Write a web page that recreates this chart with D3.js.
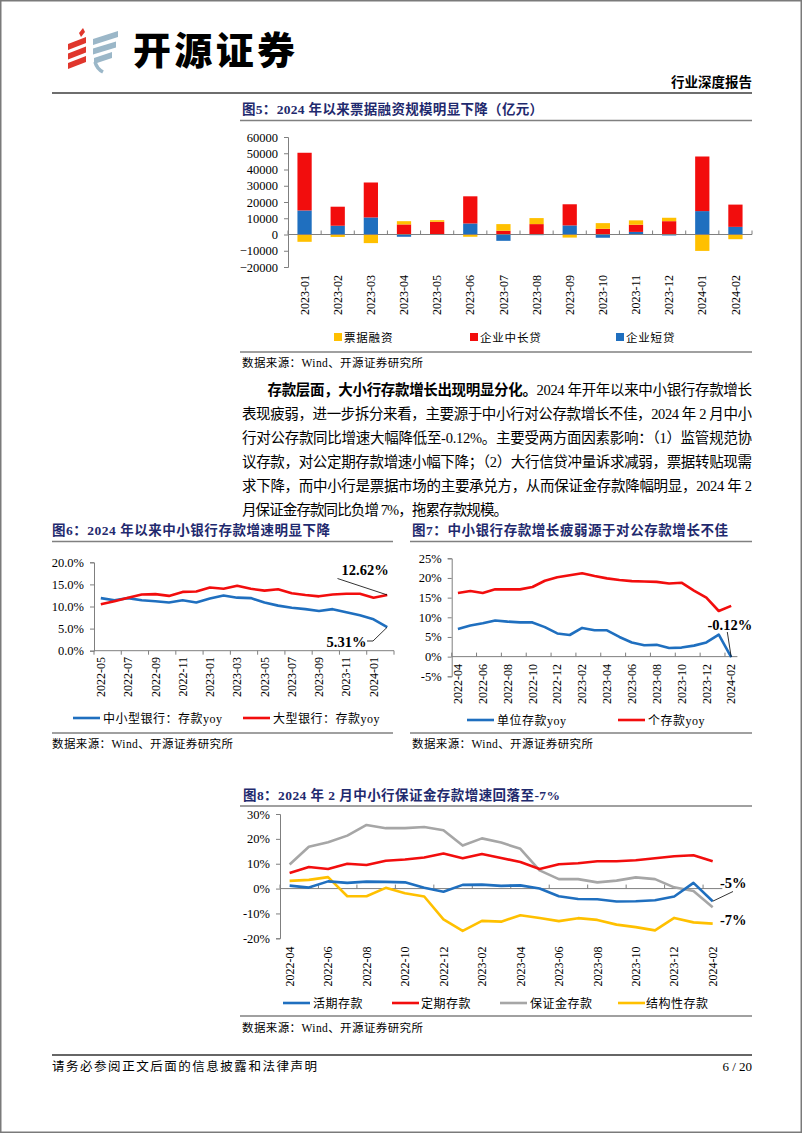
<!DOCTYPE html>
<html><head><meta charset="utf-8">
<script src="https://cdn.jsdelivr.net/npm/d3@7"></script>
<style>body{margin:0;background:#fff}svg{display:block}</style>
</head><body><svg id="page" width="802" height="1133"></svg>
<script>
// ---------- DATA ----------
const months5 = ["2023-01","2023-02","2023-03","2023-04","2023-05","2023-06","2023-07","2023-08","2023-09","2023-10","2023-11","2023-12","2024-01","2024-02"];
const bill5    = [-4500,-1500,-5300, 2000, 1000,-1400, 4100, 3700,-1900, 3500, 2700, 2100,-10100,-2900];
const midLong5 = [35500,11700,21500, 6200, 7800,16700, 2300, 6400,13000, 3500, 4400, 8200, 33600,13700];
const short5   = [14800, 5400,10500,-1400, -100, 6800,-3900, -400, 5600,-2000, 1600, -600, 14400, 4700];
const ticks5 = [-20000,-10000,0,10000,20000,30000,40000,50000,60000];
const legend5 = ["票据融资","企业中长贷","企业短贷"];

const months6 = ["2022-05","2022-06","2022-07","2022-08","2022-09","2022-10","2022-11","2022-12","2023-01","2023-02","2023-03","2023-04","2023-05","2023-06","2023-07","2023-08","2023-09","2023-10","2023-11","2023-12","2024-01","2024-02"];
const smallBank6 = [11.9,11.4,11.9,11.4,11.2,10.9,11.4,10.9,11.8,12.5,12.0,11.9,10.9,10.2,9.7,9.4,9.0,9.4,8.7,8.0,7.1,5.31];
const bigBank6   = [10.5,11.2,12.0,12.7,12.8,12.4,13.3,13.4,14.3,14.0,14.7,14.0,13.6,13.9,13.0,12.6,12.3,12.7,12.9,12.9,12.0,12.62];
const ticks6 = [0,5,10,15,20];
const legend6 = ["中小型银行：存款yoy","大型银行：存款yoy"];

const months7 = ["2022-04","2022-05","2022-06","2022-07","2022-08","2022-09","2022-10","2022-11","2022-12","2023-01","2023-02","2023-03","2023-04","2023-05","2023-06","2023-07","2023-08","2023-09","2023-10","2023-11","2023-12","2024-01","2024-02"];
const corp7     = [7.0,7.9,8.5,9.2,8.9,8.7,8.7,7.5,5.9,5.5,7.3,6.7,6.7,5.0,3.6,2.9,3.0,2.2,2.3,2.8,3.6,5.6,-0.12];
const personal7 = [16.2,16.7,16.2,17.1,17.1,17.1,17.7,19.3,20.2,20.7,21.2,20.5,19.9,19.5,19.2,19.1,19.0,18.6,18.8,16.8,15.0,11.6,12.9];
const ticks7 = [-5,0,5,10,15,20,25];
const legend7 = ["单位存款yoy","个存款yoy"];

const months8 = months7;
const demand8     = [1.2,0.4,2.9,2.3,2.8,2.7,2.5,0.3,-1.3,1.5,1.6,1.1,1.3,0.0,-3.1,-4.2,-4.3,-5.2,-5.1,-4.7,-3.2,2.3,-5.1];
const time8       = [6.3,8.7,7.9,10.0,9.5,11.2,11.7,12.5,14.1,12.2,13.9,12.3,10.7,7.9,9.8,10.2,11.0,11.0,11.4,12.2,13.0,13.4,11.0];
const margin8     = [9.7,16.8,18.6,21.3,25.6,24.3,24.3,24.8,23.5,17.3,20.2,18.5,16.0,7.3,3.8,3.8,2.5,3.2,4.5,3.8,0.5,-1.0,-7.5];
const structured8 = [3.1,3.5,4.6,-3.1,-3.1,0.3,-1.9,-3.2,-12.4,-17.0,-13.0,-13.3,-10.7,-11.8,-13.1,-11.9,-12.6,-14.5,-15.5,-16.8,-11.8,-13.6,-14.1];
const ticks8 = [-20,-10,0,10,20,30];
const legend8 = ["活期存款","定期存款","保证金存款","结构性存款"];

const paragraph = [
  ["存款层面，大小行存款增长出现明显分化。","2024 年开年以来中小银行存款增长"],
  ["","表现疲弱，进一步拆分来看，主要源于中小行对公存款增长不佳，2024 年 2 月中小"],
  ["","行对公存款同比增速大幅降低至-0.12%。主要受两方面因素影响：（1）监管规范协"],
  ["","议存款，对公定期存款增速小幅下降；（2）大行信贷冲量诉求减弱，票据转贴现需"],
  ["","求下降，而中小行是票据市场的主要承兑方，从而保证金存款降幅明显，2024 年 2"],
  ["","月保证金存款同比负增 7%，拖累存款规模。"]
];

// ---------- STYLE ----------
const FONT = '"Liberation Serif","Noto Sans CJK SC",serif';
const NAVY = '#1f2a6e';
const AX = '#7f7f7f';
const BLUE = '#1f6fbf', RED = '#f20d0d', YEL = '#ffc000', GRAY = '#a6a6a6';

const svg = d3.select('#page');

function txt(g, x, y, s, o = {}) {
  const t = g.append('text').attr('x', x).attr('y', y).text(s)
    .attr('font-family', o.family || FONT).attr('font-size', o.size || 12)
    .attr('fill', o.fill || '#000');
  if (o.weight) t.attr('font-weight', o.weight);
  if (o.anchor) t.attr('text-anchor', o.anchor);
  if (o.len) t.attr('textLength', o.len).attr('lengthAdjust', 'spacing');
  return t;
}
function hline(x1, x2, y, w = 1.3, c = '#808080') {
  svg.append('line').attr('x1', x1).attr('x2', x2).attr('y1', y).attr('y2', y)
    .attr('stroke', c).attr('stroke-width', w);
}

// page border
svg.append('rect').attr('x', 0.75).attr('y', 0.75).attr('width', 800.5).attr('height', 1131.5)
  .attr('fill', 'none').attr('stroke', '#7a7a7a').attr('stroke-width', 1.5);

// ---------- HEADER ----------
const logo = svg.append('g');
const redPolys = [
  [[79,33],[83,28],[85,32],[81,37]],
  [[68,44],[86,37],[86,43],[68,50]],
  [[68,53.5],[86,46.5],[86,52.5],[68,59.5]],
  [[68,63],[86,56],[86,62],[68,69]]
];
redPolys.forEach(p => logo.append('polygon').attr('points', p.join(' ')).attr('fill', '#e0362c'));
const bluePolys = [
  [[93,39],[118,31],[118,37],[93,45]],
  [[93,48.5],[116,41.5],[116,47.5],[93,54.5]],
  [[94,58],[112,52],[112,58],[94,64]]
];
bluePolys.forEach(p => logo.append('polygon').attr('points', p.join(' ')).attr('fill', '#9bb7c8'));
logo.append('path').attr('d', 'M95,62 Q97,69 103,72').attr('stroke', '#9bb7c8').attr('stroke-width', 3.5).attr('fill', 'none');
txt(svg, 133, 64, '开源证券', { size: 38, weight: 900, family: '"Noto Sans CJK SC",sans-serif', len: 162 });
txt(svg, 752, 87, '行业深度报告', { size: 13.5, weight: 700, anchor: 'end' });
hline(52, 752, 93, 2.2, '#6e6e6e');

// ---------- CHART 5 ----------
(function () {
  const g = svg.append('g');
  txt(g, 242, 114, '图5：2024 年以来票据融资规模明显下降（亿元）', { size: 13.5, weight: 700, fill: NAVY, len: 301 });
  hline(240, 752, 120.5, 1.5);
  const x = d3.scaleBand().domain(months5).range([288, 752]).paddingInner(0.57).paddingOuter(0.285);
  const y = d3.scaleLinear().domain([-20000, 60000]).range([267, 137]);
  const rows = months5.map((m, i) => ({ m, short: short5[i], mid: midLong5[i], bill: bill5[i] }));
  const keys = ['short', 'mid', 'bill'];
  const col = { short: BLUE, mid: RED, bill: YEL };
  const series = d3.stack().keys(keys).offset(d3.stackOffsetDiverging)(rows);
  series.forEach(s => {
    g.append('g').selectAll('rect').data(s).join('rect')
      .attr('x', d => x(d.data.m)).attr('width', x.bandwidth())
      .attr('y', d => y(Math.max(d[0], d[1])))
      .attr('height', d => Math.abs(y(d[0]) - y(d[1])))
      .attr('fill', col[s.key]);
  });
  const ya = g.append('g').attr('transform', 'translate(288,0)')
    .call(d3.axisLeft(y).tickValues(ticks5).tickSize(4).tickPadding(6).tickFormat(d3.format('d')));
  ya.selectAll('path,line').attr('stroke', AX);
  ya.selectAll('text').attr('font-family', FONT).attr('font-size', 12.5).attr('fill', '#000');
  g.append('line').attr('x1', 288).attr('x2', 752).attr('y1', y(0)).attr('y2', y(0)).attr('stroke', AX);
  const gap = (x.step() - x.bandwidth()) / 2;
  months5.forEach(m => {
    const bx = x(m) - gap;
    g.append('line').attr('x1', bx).attr('x2', bx).attr('y1', y(0)).attr('y2', y(0) - 4).attr('stroke', AX);
  });
  g.append('line').attr('x1', 752).attr('x2', 752).attr('y1', y(0)).attr('y2', y(0) - 4).attr('stroke', AX);
  months5.forEach(m => {
    txt(g, 0, 0, m, { size: 12, anchor: 'end' }).attr('dy', '0.35em')
      .attr('transform', `translate(${x(m) + x.bandwidth() / 2},275) rotate(-90)`);
  });
  const lx = [334, 470, 616];
  const lc = [YEL, RED, BLUE];
  legend5.forEach((s, i) => {
    g.append('rect').attr('x', lx[i]).attr('y', 333).attr('width', 8).attr('height', 8).attr('fill', lc[i]);
    txt(g, lx[i] + 10, 342, s, { size: 11.5 }).attr('letter-spacing', 0.8);
  });
  hline(240, 752, 352, 1.5);
  txt(g, 242, 367, '数据来源：Wind、开源证券研究所', { size: 11.5, len: 181 });
})();

// ---------- PARAGRAPH ----------
(function () {
  const g = svg.append('g');
  const base = [394.5, 418.5, 442.5, 466.5, 490.5, 514.5];
  paragraph.forEach((ln, i) => {
    const x0 = i === 0 ? 267.5 : 242;
    const len = i === 0 ? 484.5 : (i === 5 ? 266 : 510);
    const t = g.append('text').attr('x', x0).attr('y', base[i])
      .attr('font-family', FONT).attr('font-size', 14.5).attr('fill', '#000')
      .attr('textLength', len).attr('lengthAdjust', 'spacing');
    if (ln[0]) t.append('tspan').attr('font-weight', 700).text(ln[0]);
    t.append('tspan').text(ln[1]);
  });
})();

// ---------- generic line chart ----------
function lineChart(cfg) {
  const g = svg.append('g');
  const x = d3.scaleBand().domain(cfg.months).range(cfg.xr);
  const y = d3.scaleLinear().domain(cfg.yd).range(cfg.yr);
  const cx = m => x(m) + x.bandwidth() / 2;
  const ya = g.append('g').attr('transform', `translate(${cfg.xr[0]},0)`)
    .call(d3.axisLeft(y).tickValues(cfg.ticks).tickSize(4).tickPadding(6).tickFormat(cfg.fmt));
  ya.selectAll('path,line').attr('stroke', AX);
  ya.selectAll('text').attr('font-family', FONT).attr('font-size', 12.5).attr('fill', '#000');
  const ay = y(cfg.axisAt);
  g.append('line').attr('x1', cfg.xr[0]).attr('x2', cfg.xr[1]).attr('y1', ay).attr('y2', ay).attr('stroke', AX);
  for (let i = 0; i <= cfg.months.length; i += 2) {
    const bx = cfg.xr[0] + i * x.step();
    if (bx > cfg.xr[1] + 0.5) break;
    g.append('line').attr('x1', bx).attr('x2', bx).attr('y1', ay).attr('y2', ay + cfg.tickDir * 4).attr('stroke', AX);
  }
  cfg.months.forEach((m, i) => {
    if (i % 2) return;
    txt(g, 0, 0, m, { size: 12, anchor: 'end' }).attr('dy', '0.35em')
      .attr('transform', `translate(${cx(m)},${cfg.labelTop}) rotate(-90)`);
  });
  const line = d3.line().x((d, i) => cx(cfg.months[i])).y(d => y(d));
  cfg.series.forEach(s => {
    g.append('path').datum(s.values).attr('d', line).attr('fill', 'none')
      .attr('stroke', s.color).attr('stroke-width', 2.6).attr('stroke-linejoin', 'round');
  });
  return { g, x, y, cx };
}

// ---------- CHART 6 ----------
(function () {
  txt(svg, 52, 535, '图6：2024 年以来中小银行存款增速明显下降', { size: 13.5, weight: 700, fill: NAVY, len: 278 });
  hline(52, 393, 541.5, 1.5);
  const c = lineChart({
    months: months6, xr: [94, 394], yd: [0, 20], yr: [650.7, 562.3], ticks: ticks6,
    fmt: d => d.toFixed(1) + '%', axisAt: 0, tickDir: 1, labelTop: 657,
    series: [{ values: smallBank6, color: BLUE }, { values: bigBank6, color: RED }]
  });
  const last = months6[months6.length - 1];
  const px = c.cx(last);
  txt(c.g, 341.5, 575, '12.62%', { size: 14.5, weight: 700 });
  c.g.append('polyline').attr('points', `337.5,578.5 ${px},${c.y(bigBank6[bigBank6.length - 1])}`)
    .attr('fill', 'none').attr('stroke', '#000').attr('stroke-width', 0.8);
  txt(c.g, 326.5, 646.5, '5.31%', { size: 14.5, weight: 700 });
  c.g.append('polyline').attr('points', `367,641 373,641 ${px},${c.y(smallBank6[smallBank6.length - 1])}`)
    .attr('fill', 'none').attr('stroke', '#000').attr('stroke-width', 0.8);
  [[73, BLUE, 103], [243, RED, 273]].forEach((l, i) => {
    c.g.append('line').attr('x1', l[0]).attr('x2', l[0] + 27).attr('y1', 718).attr('y2', 718).attr('stroke', l[1]).attr('stroke-width', 2.6);
    txt(c.g, l[2], 722.5, legend6[i], { size: 12 }).attr('letter-spacing', 0.5);
  });
  hline(52, 393, 733, 1.5);
  txt(svg, 52, 747.5, '数据来源：Wind、开源证券研究所', { size: 11.5, len: 181 });
})();

// ---------- CHART 7 ----------
(function () {
  txt(svg, 412, 535, '图7：中小银行存款增长疲弱源于对公存款增长不佳', { size: 13.5, weight: 700, fill: NAVY, len: 316 });
  hline(410, 752, 541.5, 1.5);
  const c = lineChart({
    months: months7, xr: [451.7, 737.4], yd: [-5, 25], yr: [676.3, 558.3], ticks: ticks7,
    fmt: d => d + '%', axisAt: 0, tickDir: -1, labelTop: 664,
    series: [{ values: corp7, color: BLUE }, { values: personal7, color: RED }]
  });
  const last = months7[months7.length - 1];
  txt(c.g, 707.5, 630, '-0.12%', { size: 14.5, weight: 700 });
  c.g.append('line').attr('x1', 727.3).attr('y1', 632).attr('x2', c.cx(last)).attr('y2', c.y(corp7[corp7.length - 1]))
    .attr('stroke', '#000').attr('stroke-width', 0.8);
  [[467, BLUE, 497], [618, RED, 648]].forEach((l, i) => {
    c.g.append('line').attr('x1', l[0]).attr('x2', l[0] + 27).attr('y1', 720).attr('y2', 720).attr('stroke', l[1]).attr('stroke-width', 2.6);
    txt(c.g, l[2], 724.5, legend7[i], { size: 12 }).attr('letter-spacing', 0.5);
  });
  hline(410, 752, 733, 1.5);
  txt(svg, 412, 747.5, '数据来源：Wind、开源证券研究所', { size: 11.5, len: 181 });
})();

// ---------- CHART 8 ----------
(function () {
  txt(svg, 243, 799.5, '图8：2024 年 2 月中小行保证金存款增速回落至-7%', { size: 13.5, weight: 700, fill: NAVY, len: 317 });
  hline(240, 752, 806, 1.5);
  const c = lineChart({
    months: months8, xr: [280, 722.3], yd: [-20, 30], yr: [938.3, 814], ticks: ticks8,
    fmt: d => d + '%', axisAt: 0, tickDir: -1, labelTop: 946.5,
    series: [
      { values: margin8, color: GRAY }, { values: time8, color: RED },
      { values: structured8, color: YEL }, { values: demand8, color: BLUE }
    ]
  });
  const last = months8[months8.length - 1];
  txt(c.g, 720, 887.5, '-5%', { size: 14.5, weight: 700 });
  c.g.append('line').attr('x1', c.cx(last)).attr('y1', c.y(demand8[demand8.length - 1])).attr('x2', 733).attr('y2', 891.5)
    .attr('stroke', '#000').attr('stroke-width', 0.8);
  txt(c.g, 720, 924.5, '-7%', { size: 14.5, weight: 700 });
  const L = [[283, BLUE, 313], [392, RED, 421], [500, GRAY, 530], [618, YEL, 646]];
  L.forEach((l, i) => {
    c.g.append('line').attr('x1', l[0]).attr('x2', l[0] + 27).attr('y1', 1003).attr('y2', 1003).attr('stroke', l[1]).attr('stroke-width', 2.6);
    txt(c.g, l[2], 1007.5, legend8[i], { size: 12 }).attr('letter-spacing', 0.5);
  });
  hline(240, 752, 1016, 1.5);
  txt(svg, 242, 1031.5, '数据来源：Wind、开源证券研究所', { size: 11.5, len: 181 });
})();

// ---------- FOOTER ----------
hline(52, 752, 1055, 1.3, '#333');
txt(svg, 52, 1071, '请务必参阅正文后面的信息披露和法律声明', { size: 12.5, len: 265 });
txt(svg, 752, 1071, '6 / 20', { size: 13, anchor: 'end' });
</script>
</body></html>
